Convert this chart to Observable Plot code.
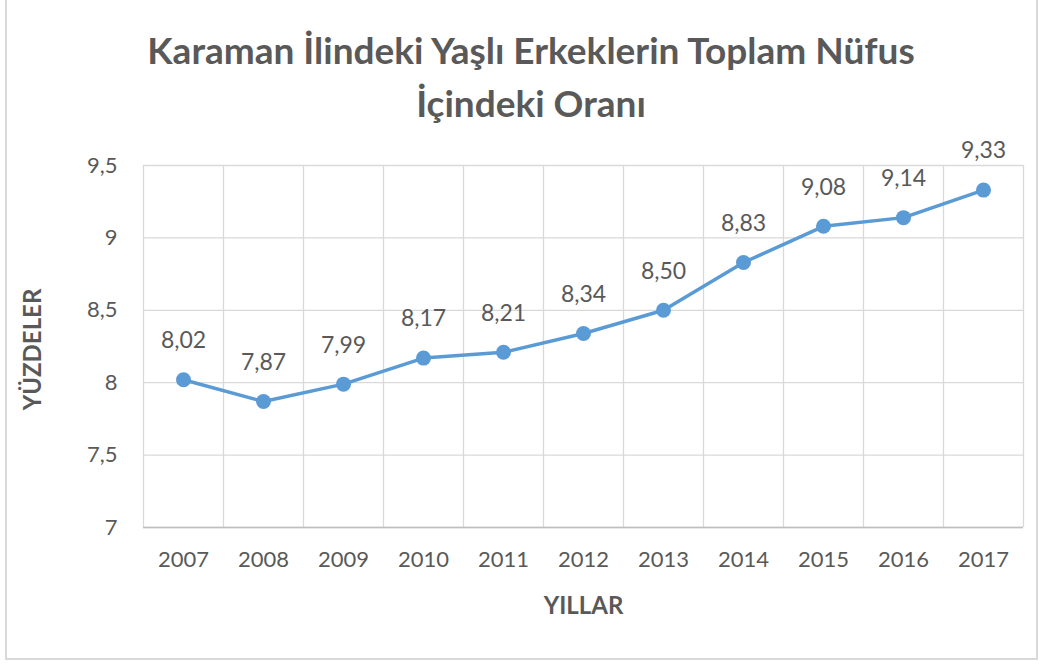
<!DOCTYPE html>
<html><head><meta charset="utf-8">
<script src="https://cdn.jsdelivr.net/npm/d3@7"></script>
<script src="https://cdn.jsdelivr.net/npm/@observablehq/plot@0.6"></script>
<style>
body{margin:0;background:#fff;font-family:Lato,"Open Sans",sans-serif;}
#wrap{position:relative;width:1047px;height:665px;overflow:hidden;}
#border{position:absolute;left:5px;top:-2px;width:1033px;height:662px;border:2px solid #d9d9d9;box-sizing:border-box;}
#title{position:absolute;left:0;width:1062px;top:23px;text-align:center;font-weight:bold;font-size:37px;line-height:53px;color:#595959;}
#chart{position:absolute;left:0;top:130px;}
</style></head>
<body><div id="wrap"><div id="border"></div>
<div id="title">Karaman İlindeki Yaşlı Erkeklerin Toplam Nüfus<br>İçindeki Oranı</div>
<div id="chart"></div></div>
<script>
const years = [2007,2008,2009,2010,2011,2012,2013,2014,2015,2016,2017];
const values = [8.02,7.87,7.99,8.17,8.21,8.34,8.50,8.83,9.08,9.14,9.33];
const yTicks = [7,7.5,8,8.5,9,9.5];
const data = years.map((y,i)=>({year:y,value:values[i]}));
const bounds = years.map(y=>y-0.5).concat([years[years.length-1]+0.5]);
const comma = d => String(d).replace(".", ",");
const txt = "#595959";
const plot = Plot.plot({
  width:1047, height:535,
  marginTop:35, marginBottom:138, marginLeft:143, marginRight:24,
  style:{fontFamily:"Lato, 'Open Sans', sans-serif", fontSize:"22px", color:txt, background:"transparent"},
  x:{domain:[years[0]-0.5, years[years.length-1]+0.5]},
  y:{domain:[7,9.5]},
  marks:[
    Plot.ruleY(yTicks,{stroke:"#d9d9d9",strokeWidth:1.3}),
    Plot.ruleX(bounds,{stroke:"#d9d9d9",strokeWidth:1.3}),
    Plot.ruleY([7],{stroke:"#bfbfbf",strokeWidth:1.5}),
    Plot.axisY({ticks:yTicks,tickSize:0,tickPadding:26,tickFormat:comma,fill:txt,fontSize:22,label:null}),
    Plot.axisX({ticks:years,tickSize:0,tickPadding:24,tickFormat:d=>String(d),fill:txt,fontSize:22,label:null}),
    Plot.text(["YILLAR"],{frameAnchor:"bottom",dy:86,fontWeight:"bold",fontSize:24,fill:txt}),
    Plot.text(["YÜZDELER"],{frameAnchor:"left",textAnchor:"middle",dx:-110,dy:3,rotate:-90,fontWeight:"bold",fontSize:24,fill:txt}),
    Plot.line(data,{x:"year",y:"value",stroke:"#5B9BD5",strokeWidth:3.5}),
    Plot.dot(data,{x:"year",y:"value",r:7.5,fill:"#5B9BD5"}),
    Plot.text(data,{x:"year",y:"value",text:d=>d.value.toFixed(2).replace(".", ","),dy:-39,fontSize:23,fill:txt})
  ]
});
document.getElementById("chart").appendChild(plot);
</script></body></html>
